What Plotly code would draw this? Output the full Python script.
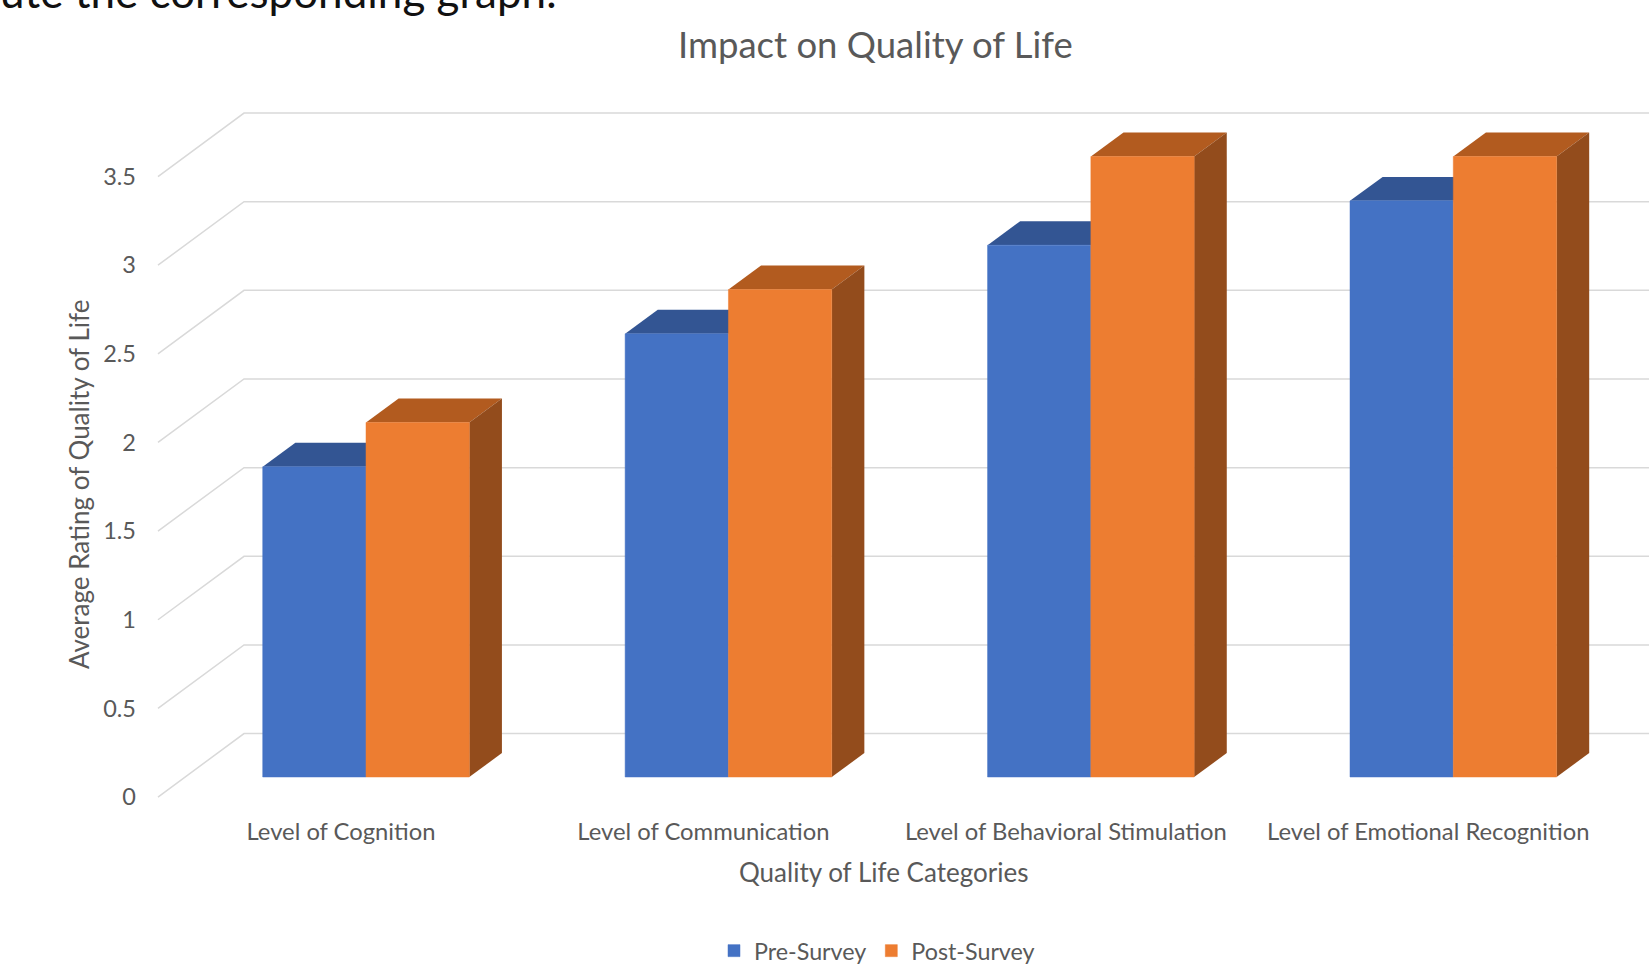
import plotly.graph_objects as go

categories = ["Level of Cognition", "Level of Communication",
              "Level of Behavioral Stimulation", "Level of Emotional Recognition"]
pre_survey = [1.75, 2.5, 3.0, 3.25]
post_survey = [2.0, 2.75, 3.5, 3.5]
y_ticks = [0, 0.5, 1, 1.5, 2, 2.5, 3, 3.5]
y_tick_labels = ["0", "0.5", "1", "1.5", "2", "2.5", "3", "3.5"]

WIDTH, HEIGHT = 1649, 965
LEFT, RIGHT, TOP, BOTTOM = 140, 1649, 100, 815
X_RANGE = [-0.6236, 3.540]
Y_RANGE = [-0.2143, 3.8187]

BAR_W = 0.285          # width of one bar in category units
BAR_DX, BAR_DY = 0.0900, 0.135   # oblique depth of a bar
WALL_X, WALL_DY = -0.3366, 0.245 # back wall corner and its lift above the bar plane
FRONT_X, FRONT_DY = -0.574, -0.113  # front edge of the floor
LABEL_SHIFT = -0.069   # category labels sit centred on the floor's front edge

TEXT = "#595959"
GRID = "#d9d9d9"
FONT = "Lato"


def px_x(px):
    return (px - LEFT) / (RIGHT - LEFT)


def px_y(px):
    return (BOTTOM - px) / (BOTTOM - TOP)


def poly(points, fill):
    path = "M" + "L".join(f"{x},{y}" for x, y in points) + "Z"
    return dict(type="path", path=path, xref="x", yref="y", layer="below",
                fillcolor=fill, line=dict(width=0))


shapes = []

# Oblique gridlines: front edge of the floor, back wall corner, right edge
for v in y_ticks:
    wall_y = v + WALL_DY
    path = f"M{FRONT_X},{v + FRONT_DY}L{WALL_X},{wall_y}L{X_RANGE[1]},{wall_y}"
    shapes.append(dict(type="path", path=path, xref="x", yref="y", layer="below",
                       line=dict(color=GRID, width=1.5)))

# Extruded tops and sides of the bars, drawn behind the front faces
for i, (a, b) in enumerate(zip(pre_survey, post_survey)):
    l, m, r = i - BAR_W, i, i + BAR_W
    shapes.append(poly([(l, a), (l + BAR_DX, a + BAR_DY), (m + BAR_DX, a + BAR_DY), (m, a)], "#335593"))
    shapes.append(poly([(m, b), (m + BAR_DX, b + BAR_DY), (r + BAR_DX, b + BAR_DY), (r, b)], "#B25B1F"))
    shapes.append(poly([(r, 0), (r + BAR_DX, BAR_DY), (r + BAR_DX, b + BAR_DY), (r, b)], "#934C1C"))

fig = go.Figure()
fig.add_bar(x=list(range(4)), y=pre_survey, name="Pre-Survey",
            marker=dict(color="#4472C4", line=dict(color="#4472C4", width=0.5)))
fig.add_bar(x=list(range(4)), y=post_survey, name="Post-Survey",
            marker=dict(color="#ED7D31", line=dict(color="#ED7D31", width=0.5)))


def label(text, px, py, size, color=TEXT, **kw):
    return dict(text=text, x=px_x(px), y=px_y(py), xref="paper", yref="paper", showarrow=False,
                xanchor="center", yanchor="middle", font=dict(family=FONT, size=size, color=color), **kw)


annotations = [
    label("Impact on Quality of Life", 875, 44, 36.5),
    label("Quality of Life Categories", 883, 872, 26),
    label("Average Rating of Quality of Life", 79, 485, 26, textangle=-90),
    label("ute the corresponding graph.", 278, -9, 44, color="#111111"),
]

fig.update_layout(
    width=WIDTH, height=HEIGHT, autosize=False,
    margin=dict(l=LEFT, r=WIDTH - RIGHT, t=TOP, b=HEIGHT - BOTTOM, autoexpand=False),
    paper_bgcolor="white", plot_bgcolor="white",
    barmode="group", bargap=1 - 2 * BAR_W, bargroupgap=0,
    shapes=shapes, annotations=annotations,
    font=dict(family=FONT, color=TEXT),
    showlegend=True,
    legend=dict(orientation="h", x=px_x(877), y=px_y(951), xanchor="center", yanchor="middle",
                font=dict(size=23.3, color=TEXT), bgcolor="rgba(0,0,0,0)"),
    xaxis=dict(range=X_RANGE, showgrid=False, zeroline=False, showline=False,
               tickmode="array", tickvals=[i + LABEL_SHIFT for i in range(4)], ticktext=categories,
               tickfont=dict(size=23.8, color=TEXT), ticks=""),
    yaxis=dict(range=Y_RANGE, showgrid=False, zeroline=False, showline=False,
               tickmode="array", tickvals=[v + FRONT_DY for v in y_ticks], ticktext=y_tick_labels,
               tickfont=dict(size=23.5, color=TEXT), ticks="", ticklabelstandoff=3),
)

fig.write_html("out.html")
